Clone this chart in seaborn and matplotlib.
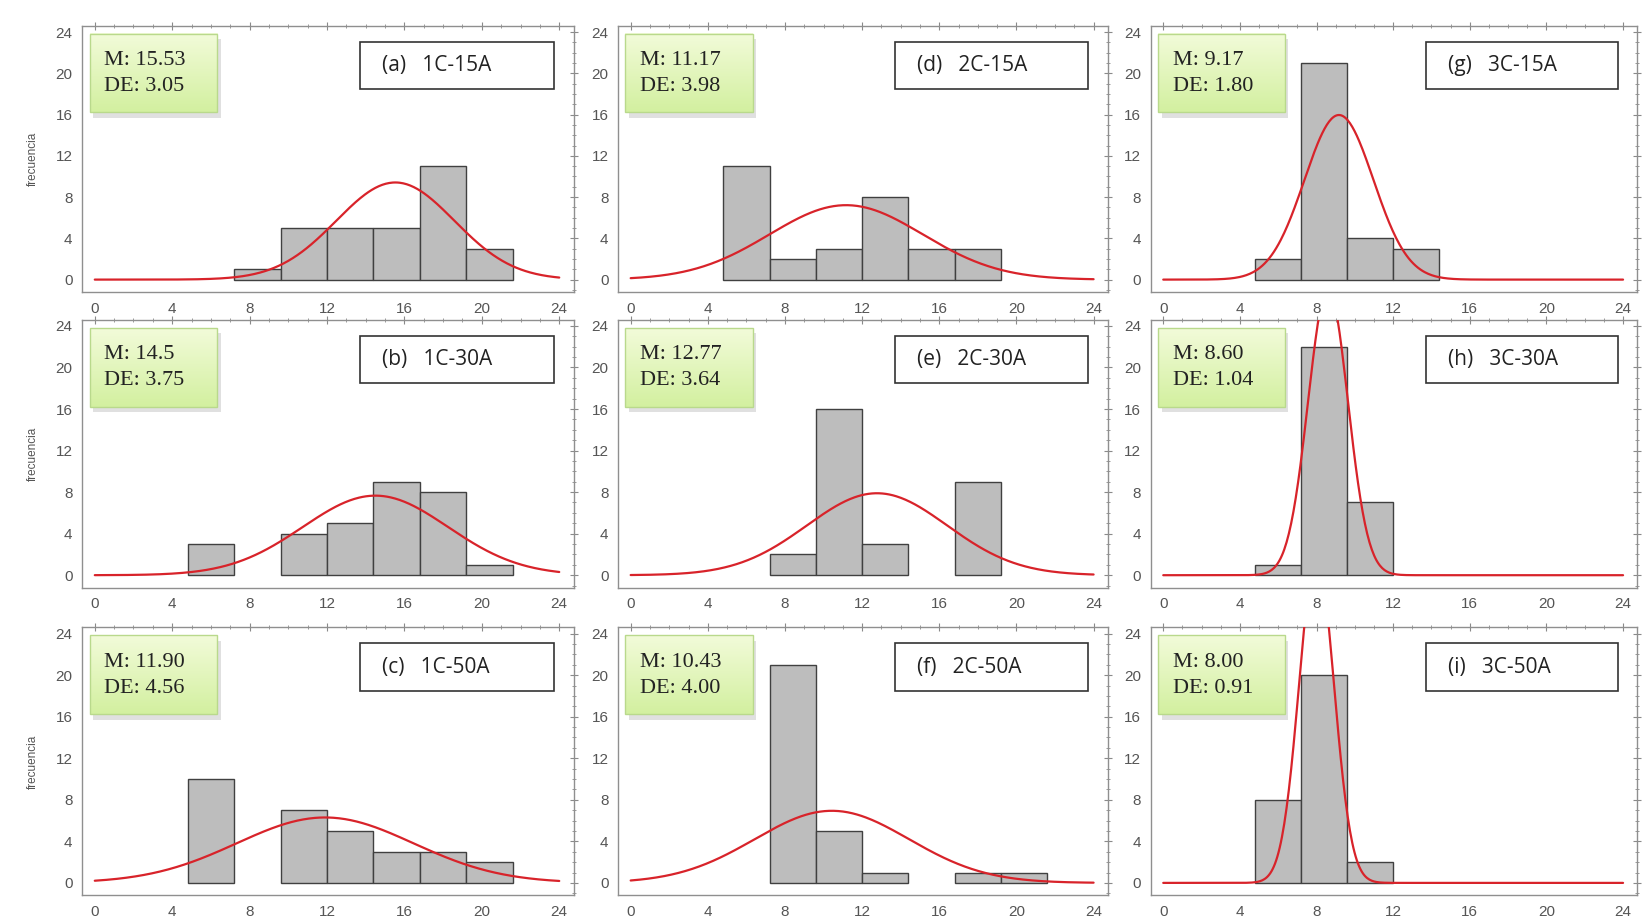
import numpy as np
import pandas as pd
import matplotlib.pyplot as plt
import seaborn as sns
from matplotlib.patches import Rectangle
from matplotlib.ticker import MultipleLocator

# bin edges shared by every histogram (width 2.4)
bin_edges = [0, 2.4, 4.8, 7.2, 9.6, 12.0, 14.4, 16.8, 19.2, 21.6, 24.0]

# frequency per bin
counts_1c_15a = [0, 0, 0, 1, 5, 5, 5, 11, 3, 0]
counts_1c_30a = [0, 0, 3, 0, 4, 5, 9, 8, 1, 0]
counts_1c_50a = [0, 0, 10, 0, 7, 5, 3, 3, 2, 0]
counts_2c_15a = [0, 0, 11, 2, 3, 8, 3, 3, 0, 0]
counts_2c_30a = [0, 0, 0, 2, 16, 3, 0, 9, 0, 0]
counts_2c_50a = [0, 0, 0, 21, 5, 1, 0, 1, 1, 0]
counts_3c_15a = [0, 0, 2, 21, 4, 3, 0, 0, 0, 0]
counts_3c_30a = [0, 0, 1, 22, 7, 0, 0, 0, 0, 0]
counts_3c_50a = [0, 0, 8, 20, 2, 0, 0, 0, 0, 0]

# mean / std shown in the green boxes
means = [15.53, 14.5, 11.90, 11.17, 12.77, 10.43, 9.17, 8.60, 8.00]
stds = [3.05, 3.75, 4.56, 3.98, 3.64, 4.00, 1.80, 1.04, 0.91]
mean_labels = ["15.53", "14.5", "11.90", "11.17", "12.77", "10.43", "9.17", "8.60", "8.00"]
std_labels = ["3.05", "3.75", "4.56", "3.98", "3.64", "4.00", "1.80", "1.04", "0.91"]

panel_letters = ["(a)", "(b)", "(c)", "(d)", "(e)", "(f)", "(g)", "(h)", "(i)"]
panel_names = ["1C-15A", "1C-30A", "1C-50A", "2C-15A", "2C-30A", "2C-50A",
               "3C-15A", "3C-30A", "3C-50A"]

all_counts = [counts_1c_15a, counts_1c_30a, counts_1c_50a,
              counts_2c_15a, counts_2c_30a, counts_2c_50a,
              counts_3c_15a, counts_3c_30a, counts_3c_50a]

sns.set_theme(style="white")
plt.rcParams['font.family'] = ['Liberation Sans', 'DejaVu Sans']

fig = plt.figure(figsize=(16.44, 9.24), dpi=100)

col_left = [0.050, 0.376, 0.700]
col_width = [0.299, 0.298, 0.296]
row_bottom = [0.684, 0.364, 0.031]
row_height = [0.288, 0.290, 0.290]

centers = [(bin_edges[i] + bin_edges[i + 1]) / 2 for i in range(len(bin_edges) - 1)]
bw = bin_edges[1] - bin_edges[0]
xs = np.linspace(0, 24, 400)

for k in range(9):
    col, row = k // 3, k % 3
    ax = fig.add_axes([col_left[col], row_bottom[row], col_width[col], row_height[row]])
    df = pd.DataFrame({'x': centers, 'w': all_counts[k]})
    sns.histplot(data=df, x='x', weights='w', bins=bin_edges, ax=ax,
                 color='#bdbdbd', edgecolor='#404040', linewidth=1.0, alpha=1)
    for p in ax.patches:
        if p.get_height() == 0:
            p.set_visible(False)

    # fitted normal curve scaled to counts
    n = sum(all_counts[k])
    m, s = means[k], stds[k]
    ys = n * bw * np.exp(-0.5 * ((xs - m) / s) ** 2) / (s * np.sqrt(2 * np.pi))
    ax.plot(xs, ys, color='#d8232a', lw=1.6, zorder=3)

    ax.xaxis.set_major_locator(MultipleLocator(4))
    ax.yaxis.set_major_locator(MultipleLocator(4))
    ax.xaxis.set_minor_locator(MultipleLocator(1))
    ax.yaxis.set_minor_locator(MultipleLocator(1))
    ax.tick_params(which='both', direction='inout', top=True, right=True,
                   color='#8a8a8a', labelsize=11, labelcolor='#555555', pad=4)
    ax.tick_params(which='major', length=6, width=0.8)
    ax.tick_params(which='minor', length=3, width=0.6)
    for sp in ax.spines.values():
        sp.set_color('#8f8f8f')
        sp.set_linewidth(1.0)

    ax.set_xlabel('')
    if col == 0:
        ax.set_ylabel('frecuencia', fontsize=8.5, color='#555555', labelpad=12)
    else:
        ax.set_ylabel('')

    # green stats box with soft shadow and gradient
    ax.add_patch(Rectangle((0.022, 0.655), 0.26, 0.295, transform=ax.transAxes,
                           facecolor='#9a9a9a', alpha=0.3, edgecolor='none', zorder=4))
    grad = np.linspace(0, 1, 50).reshape(-1, 1)
    ax.imshow(grad, extent=[0.015, 0.275, 0.676, 0.97], transform=ax.transAxes,
              cmap=sns.blend_palette(['#f2fbd9', '#d3f0a0'], as_cmap=True),
              aspect='auto', origin='upper', zorder=5)
    ax.add_patch(Rectangle((0.015, 0.676), 0.26, 0.294, transform=ax.transAxes,
                           facecolor='none', edgecolor='#b9d98c', lw=1.0, zorder=6))
    ax.text(0.045, 0.822, f"M: {mean_labels[k]}\nDE: {std_labels[k]}",
            transform=ax.transAxes, ha='left', va='center', fontsize=16,
            family=['Liberation Serif', 'DejaVu Serif'], color='#222222',
            linespacing=1.5, zorder=7)

    # panel label box
    ax.add_patch(Rectangle((0.565, 0.763), 0.395, 0.177, transform=ax.transAxes,
                           facecolor='white', edgecolor='#333333', lw=1.2, zorder=6))
    ax.text(0.61, 0.852, f"{panel_letters[k]}   {panel_names[k]}",
            transform=ax.transAxes, ha='left', va='center', fontsize=15,
            family=['Open Sans', 'DejaVu Sans'], color='#222222', zorder=7)

    ax.set_xlim(-0.65, 24.75)
    ax.set_ylim(-1.2, 24.6)

fig.savefig('out.png', dpi=100)
